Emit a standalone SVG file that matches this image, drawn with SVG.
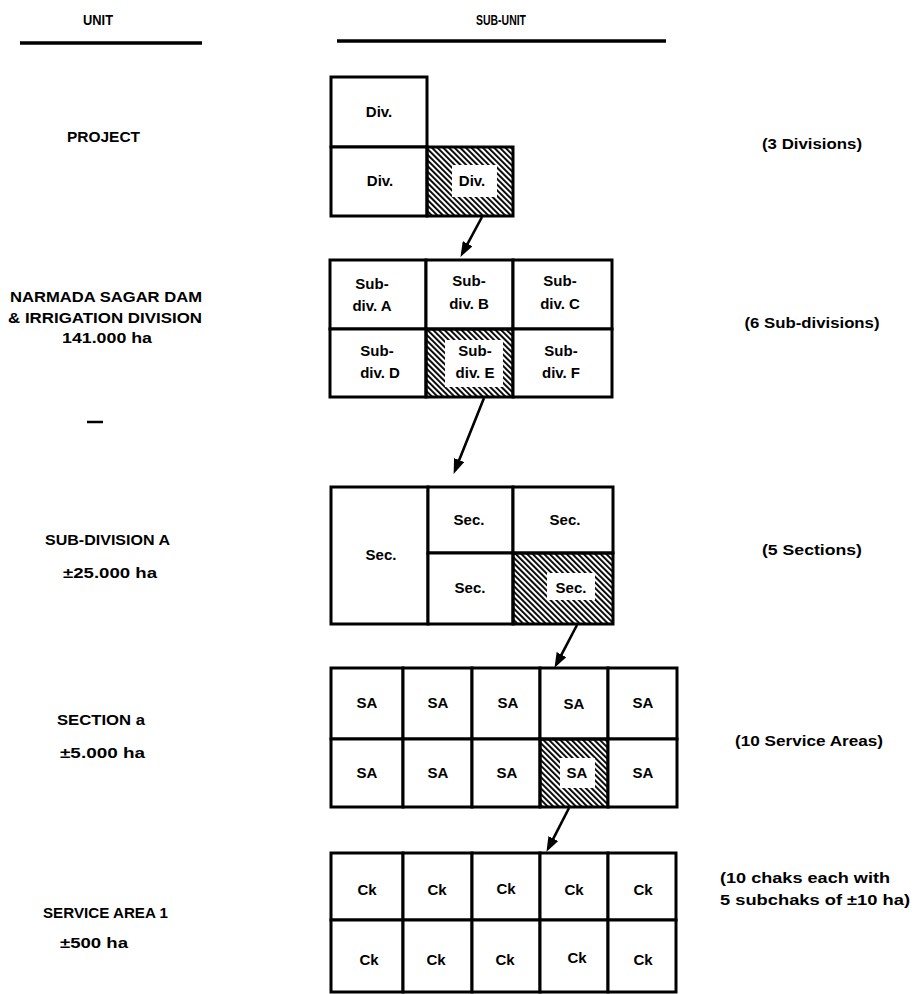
<svg xmlns="http://www.w3.org/2000/svg" width="914" height="994" viewBox="0 0 914 994">
<style>
.cell{fill:#fff;stroke:#000;stroke-width:3;stroke-linejoin:miter}
.hat{fill:url(#hatch);stroke:#000;stroke-width:3}
.win{fill:#fff;stroke:none}
.t{font-family:"Liberation Sans",Arial,sans-serif;font-weight:bold;font-size:15px;text-anchor:middle;fill:#000}
.h{font-family:"Liberation Sans",Arial,sans-serif;font-weight:bold;font-size:15px;fill:#000}
.hl{stroke:#000;stroke-width:3.5;fill:none}
.arr{stroke:#000;stroke-width:2.6;fill:none;marker-end:url(#ah)}
</style>
<defs>
<pattern id="hatch" patternUnits="userSpaceOnUse" width="4" height="4" patternTransform="rotate(-45)">
<rect x="0" y="0" width="1.9" height="4" fill="#000"/>
</pattern>
<marker id="ah" markerUnits="userSpaceOnUse" markerWidth="15" markerHeight="11" refX="11" refY="5.5" orient="auto">
<path d="M0,0 L15,5.5 L0,11 Z" fill="#000"/>
</marker>
</defs>
<rect width="914" height="994" fill="#fff"/>

<g id="headers">
<text class="h" x="98" y="25" text-anchor="middle" font-size="13" textLength="30" lengthAdjust="spacingAndGlyphs">UNIT</text>
<line class="hl" x1="20" y1="43" x2="202" y2="43"/>
<text class="h" x="501" y="25" text-anchor="middle" font-size="13" textLength="50" lengthAdjust="spacingAndGlyphs">SUB-UNIT</text>
<line class="hl" x1="337" y1="41" x2="666" y2="41"/>
</g>

<g id="unit-labels">
<text class="t" x="103.5" y="142" textLength="73" lengthAdjust="spacingAndGlyphs">PROJECT</text>
<text class="t" x="106" y="302" textLength="192" lengthAdjust="spacingAndGlyphs">NARMADA SAGAR DAM</text>
<text class="t" x="105" y="323" textLength="194" lengthAdjust="spacingAndGlyphs">&amp; IRRIGATION DIVISION</text>
<text class="t" x="107" y="343" textLength="90" lengthAdjust="spacingAndGlyphs">141.000 ha</text>
<line x1="87" y1="422" x2="103" y2="422" stroke="#000" stroke-width="2.5"/>
<text class="t" x="107.5" y="545" textLength="125" lengthAdjust="spacingAndGlyphs">SUB-DIVISION A</text>
<text class="t" x="110" y="578" textLength="94" lengthAdjust="spacingAndGlyphs">±25.000 ha</text>
<text class="t" x="101" y="725" textLength="88" lengthAdjust="spacingAndGlyphs">SECTION a</text>
<text class="t" x="102.5" y="758" textLength="85" lengthAdjust="spacingAndGlyphs">±5.000 ha</text>
<text class="t" x="105.5" y="918" textLength="125" lengthAdjust="spacingAndGlyphs">SERVICE AREA 1</text>
<text class="t" x="94" y="948" textLength="68" lengthAdjust="spacingAndGlyphs">±500 ha</text>
</g>

<g id="count-labels">
<text class="t" x="812" y="149" textLength="100" lengthAdjust="spacingAndGlyphs">(3 Divisions)</text>
<text class="t" x="812" y="328" textLength="135" lengthAdjust="spacingAndGlyphs">(6 Sub-divisions)</text>
<text class="t" x="812" y="555" textLength="100" lengthAdjust="spacingAndGlyphs">(5 Sections)</text>
<text class="t" x="809" y="746" textLength="148" lengthAdjust="spacingAndGlyphs">(10 Service Areas)</text>
<text class="h" x="720" y="883" textLength="170" lengthAdjust="spacingAndGlyphs">(10 chaks each with</text>
<text class="h" x="720" y="905" textLength="190" lengthAdjust="spacingAndGlyphs">5 subchaks of ±10 ha)</text>
</g>

<g id="project-grid">
<g id="div-1"><rect class="cell" x="331" y="77" width="96" height="70"/><text class="t" x="379" y="117">Div.</text></g>
<g id="div-2"><rect class="cell" x="331" y="147" width="96" height="69"/><text class="t" x="380" y="186">Div.</text></g>
<g id="div-3"><rect class="hat" x="427" y="147" width="86" height="69"/><rect class="win" x="452" y="165" width="45" height="32"/><text class="t" x="472" y="186">Div.</text></g>
</g>

<g id="division-grid">
<g id="subdiv-a"><rect class="cell" x="330" y="260" width="96" height="69"/><text class="t" x="372" y="289">Sub-</text><text class="t" x="372" y="311">div. A</text></g>
<g id="subdiv-b"><rect class="cell" x="426" y="260" width="87" height="69"/><text class="t" x="469" y="286">Sub-</text><text class="t" x="469" y="309">div. B</text></g>
<g id="subdiv-c"><rect class="cell" x="513" y="260" width="99" height="69"/><text class="t" x="560" y="286">Sub-</text><text class="t" x="560" y="309">div. C</text></g>
<g id="subdiv-d"><rect class="cell" x="330" y="329" width="96" height="68"/><text class="t" x="377" y="356">Sub-</text><text class="t" x="380" y="378">div. D</text></g>
<g id="subdiv-e"><rect class="hat" x="426" y="329" width="87" height="68"/><rect class="win" x="445" y="340" width="58" height="47"/><text class="t" x="475" y="356">Sub-</text><text class="t" x="475" y="378">div. E</text></g>
<g id="subdiv-f"><rect class="cell" x="513" y="329" width="99" height="68"/><text class="t" x="561" y="356">Sub-</text><text class="t" x="561" y="378">div. F</text></g>
</g>

<g id="subdivision-grid">
<g id="sec-1"><rect class="cell" x="331" y="487" width="97" height="137"/><text class="t" x="381" y="560">Sec.</text></g>
<g id="sec-2"><rect class="cell" x="428" y="487" width="85" height="66"/><text class="t" x="469" y="525">Sec.</text></g>
<g id="sec-3"><rect class="cell" x="513" y="487" width="100" height="66"/><text class="t" x="565" y="525">Sec.</text></g>
<g id="sec-4"><rect class="cell" x="428" y="553" width="85" height="71"/><text class="t" x="470" y="593">Sec.</text></g>
<g id="sec-5"><rect class="hat" x="513" y="553" width="100" height="71"/><rect class="win" x="547" y="573" width="48" height="27"/><text class="t" x="571" y="593">Sec.</text></g>
</g>

<g id="section-grid">
<g id="sa-1"><rect class="cell" x="331" y="668" width="72" height="71"/><text class="t" x="367" y="708">SA</text></g>
<g id="sa-2"><rect class="cell" x="403" y="668" width="69" height="71"/><text class="t" x="438" y="708">SA</text></g>
<g id="sa-3"><rect class="cell" x="472" y="668" width="68" height="71"/><text class="t" x="508" y="708">SA</text></g>
<g id="sa-4"><rect class="cell" x="540" y="668" width="68" height="71"/><text class="t" x="574" y="709">SA</text></g>
<g id="sa-5"><rect class="cell" x="608" y="668" width="69" height="71"/><text class="t" x="643" y="708">SA</text></g>
<g id="sa-6"><rect class="cell" x="331" y="739" width="72" height="68"/><text class="t" x="367" y="778">SA</text></g>
<g id="sa-7"><rect class="cell" x="403" y="739" width="69" height="68"/><text class="t" x="438" y="778">SA</text></g>
<g id="sa-8"><rect class="cell" x="472" y="739" width="68" height="68"/><text class="t" x="507" y="778">SA</text></g>
<g id="sa-9"><rect class="hat" x="540" y="739" width="68" height="68"/><rect class="win" x="560" y="758" width="35" height="30"/><text class="t" x="577" y="778">SA</text></g>
<g id="sa-10"><rect class="cell" x="608" y="739" width="69" height="68"/><text class="t" x="643" y="778">SA</text></g>
</g>

<g id="service-area-grid">
<g id="ck-1"><rect class="cell" x="331" y="853" width="72" height="67"/><text class="t" x="367" y="895">Ck</text></g>
<g id="ck-2"><rect class="cell" x="403" y="853" width="69" height="67"/><text class="t" x="437" y="895">Ck</text></g>
<g id="ck-3"><rect class="cell" x="472" y="853" width="68" height="67"/><text class="t" x="506" y="894">Ck</text></g>
<g id="ck-4"><rect class="cell" x="540" y="853" width="68" height="67"/><text class="t" x="574" y="895">Ck</text></g>
<g id="ck-5"><rect class="cell" x="608" y="853" width="68" height="67"/><text class="t" x="643" y="895">Ck</text></g>
<g id="ck-6"><rect class="cell" x="331" y="920" width="72" height="72"/><text class="t" x="369" y="965">Ck</text></g>
<g id="ck-7"><rect class="cell" x="403" y="920" width="69" height="72"/><text class="t" x="436" y="965">Ck</text></g>
<g id="ck-8"><rect class="cell" x="472" y="920" width="68" height="72"/><text class="t" x="505" y="965">Ck</text></g>
<g id="ck-9"><rect class="cell" x="540" y="920" width="68" height="72"/><text class="t" x="577" y="963">Ck</text></g>
<g id="ck-10"><rect class="cell" x="608" y="920" width="68" height="72"/><text class="t" x="643" y="965">Ck</text></g>
</g>

<g id="connectors">
<line class="arr" x1="482" y1="217" x2="462.4" y2="253.4"/>
<line class="arr" x1="484" y1="398" x2="455.1" y2="470.2"/>
<line class="arr" x1="577" y1="625" x2="556.4" y2="664.3"/>
<line class="arr" x1="569" y1="808" x2="548.3" y2="848.3"/>
</g>
</svg>
